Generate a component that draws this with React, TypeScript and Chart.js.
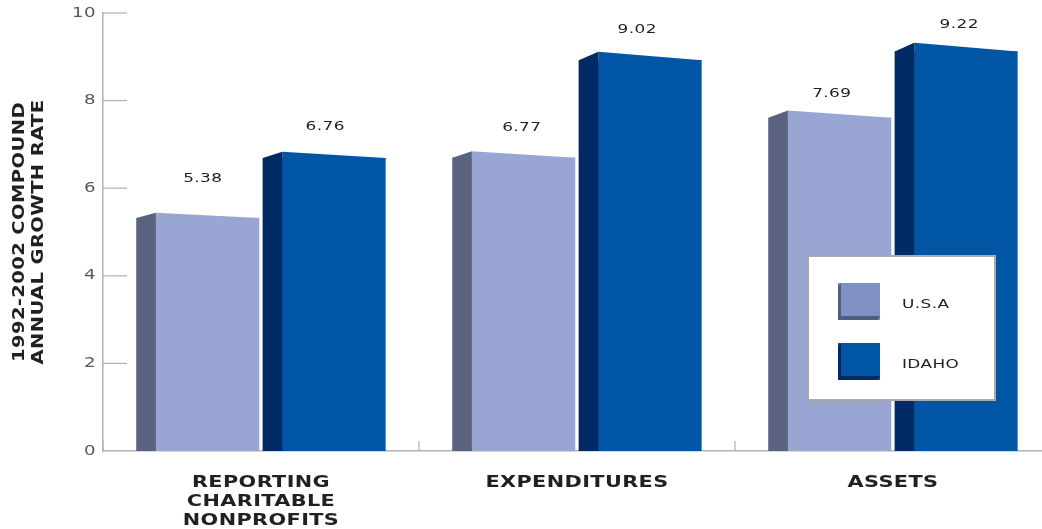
import React, { useEffect, useRef } from "react";
import { Chart, registerables } from "chart.js";

Chart.register(...registerables);

const categories = [["REPORTING", "CHARITABLE", "NONPROFITS"], "EXPENDITURES", "ASSETS"];
const usaValues = [5.38, 6.77, 7.69];
const idahoValues = [6.76, 9.02, 9.22];
const yTicks = [0, 2, 4, 6, 8, 10];
const seriesNames = ["U.S.A", "IDAHO"];
const yTitle = ["1992-2002 COMPOUND", "ANNUAL GROWTH RATE"];

const FRONT = ["#99a6d3", "#0055a5"];
const SIDE = ["#5a6280", "#002a66"];
const SWATCH = ["#8090c4", "#0055a5"];
const SWATCH_DARK = ["#525c80", "#002a66"];
// label offsets relative to the bar centre, per dataset / category
const LABEL_NUDGE = [
  [[5, -37], [8, -27], [2, -21]],
  [[1, -28], [-3, -26], [3, -23]],
];
const DEPTH = 19.5;
const TEXT = "#231f20";
const AXIS = "#b1b1b8";
const TEXT_STRETCH = 1.3;
const PLOT_TOP = 13;

const bar3d = {
  id: "bar3d",
  install(chart: any) {
    // The reference face is an extended sans: widen every glyph along its baseline.
    const ctx = chart.ctx;
    const original = ctx.fillText.bind(ctx);
    ctx.fillText = (text: string, x: number, y: number) => {
      ctx.save();
      ctx.translate(x, y);
      ctx.scale(TEXT_STRETCH, 1);
      original(text, 0, 0);
      ctx.restore();
    };
  },
  afterLayout(chart: any) {
    // pin the top of the plot area to the reference position
    const y = chart.scales.y;
    y.top = PLOT_TOP;
    y.height = y.bottom - PLOT_TOP;
    y.configure();
    y._labelItems = null;
    chart.chartArea.top = PLOT_TOP;
    chart.chartArea.height = chart.chartArea.bottom - PLOT_TOP;
  },
  beforeDraw(chart: any) {
    chart.ctx.letterSpacing = "0.3px";
  },
  beforeDatasetsDraw(chart: any) {
    const { ctx, scales, chartArea } = chart;
    ctx.save();
    ctx.strokeStyle = AXIS;
    ctx.lineWidth = 1.2;
    scales.y.ticks.forEach((t: any) => {
      if (t.value === 0) return;
      const y = scales.y.getPixelForValue(t.value);
      ctx.beginPath();
      ctx.moveTo(chartArea.left, y);
      ctx.lineTo(chartArea.left + 24, y);
      ctx.stroke();
    });
    const w = scales.x.width / categories.length;
    for (let i = 0; i < categories.length; i++) {
      const x = chartArea.left + w * i;
      ctx.beginPath();
      ctx.moveTo(x, chartArea.bottom);
      ctx.lineTo(x, chartArea.bottom - 10);
      ctx.stroke();
    }
    ctx.restore();
  },
  afterDatasetsDraw(chart: any) {
    const { ctx } = chart;
    ctx.save();
    chart.data.datasets.forEach((ds: any, d: number) => {
      chart.getDatasetMeta(d).data.forEach((bar: any, i: number) => {
        const { x, y, base, width } = bar.getProps(["x", "y", "base", "width"], true);
        const l = x - width / 2;
        const r = x + width / 2;
        const f = l + DEPTH;
        const slant = ds.data[i] * 0.95;
        const yHigh = y - slant / 2;
        const yLow = y + slant / 2;
        // clear the flat top where the slanted one falls below it
        ctx.fillStyle = "#ffffff";
        ctx.fillRect(l - 1, yHigh - 2, r - l + 2, yLow - yHigh + 2);
        // slanted front
        ctx.fillStyle = FRONT[d];
        ctx.beginPath();
        ctx.moveTo(f, yHigh);
        ctx.lineTo(r, yLow);
        ctx.lineTo(r, yLow + 1);
        ctx.lineTo(f, yLow + 1);
        ctx.closePath();
        ctx.fill();
        // side face
        ctx.fillStyle = SIDE[d];
        ctx.beginPath();
        ctx.moveTo(l, yLow);
        ctx.lineTo(f, yHigh);
        ctx.lineTo(f, base);
        ctx.lineTo(l, base);
        ctx.closePath();
        ctx.fill();
        // value label
        const [nx, ny] = LABEL_NUDGE[d][i];
        ctx.fillStyle = TEXT;
        ctx.font = "13px 'DejaVu Sans'";
        ctx.textAlign = "center";
        ctx.textBaseline = "middle";
        ctx.fillText(ds.data[i].toFixed(2), x + nx, y + ny);
      });
    });
    // legend
    ctx.fillStyle = "#ffffff";
    ctx.strokeStyle = "#a9a9a9";
    ctx.lineWidth = 2;
    ctx.fillRect(808, 256, 187, 144);
    ctx.strokeRect(808, 256, 187, 144);
    seriesNames.forEach((name, d) => {
      const top = 283 + d * 60;
      ctx.fillStyle = SWATCH[d];
      ctx.fillRect(838, top, 42, 37);
      ctx.fillStyle = SWATCH_DARK[d];
      ctx.beginPath();
      ctx.moveTo(838, top + 3);
      ctx.lineTo(841, top);
      ctx.lineTo(841, top + 33);
      ctx.lineTo(880, top + 33);
      ctx.lineTo(878, top + 37);
      ctx.lineTo(838, top + 37);
      ctx.closePath();
      ctx.fill();
      ctx.fillStyle = TEXT;
      ctx.font = "13px 'DejaVu Sans'";
      ctx.textAlign = "left";
      ctx.textBaseline = "middle";
      ctx.fillText(name, 902, top + 22);
    });
    ctx.restore();
  },
};

export default function App() {
  const ref = useRef<HTMLCanvasElement>(null);
  useEffect(() => {
    const chart = new Chart(ref.current!, {
      type: "bar",
      data: {
        labels: categories as any,
        datasets: [
          { label: seriesNames[0], data: usaValues, backgroundColor: FRONT[0], borderWidth: 0, categoryPercentage: 0.8, barPercentage: 0.972 },
          { label: seriesNames[1], data: idahoValues, backgroundColor: FRONT[1], borderWidth: 0, categoryPercentage: 0.8, barPercentage: 0.972 },
        ],
      },
      plugins: [bar3d],
      options: {
        responsive: false,
        animation: false,
        layout: { autoPadding: false, padding: { top: 13, left: 0, right: 0, bottom: 0 } },
        plugins: { legend: { display: false }, tooltip: { enabled: false }, title: { display: false } },
        scales: {
          x: {
            grid: { display: false, drawTicks: false },
            border: { color: AXIS, width: 1.5 },
            ticks: {
              color: TEXT,
              padding: 22,
              maxRotation: 0,
              autoSkip: false,
              font: { family: "'DejaVu Sans'", size: 16, weight: "bold", lineHeight: 1.19 },
            },
            afterFit: (s: any) => { s.height = 78; },
          },
          y: {
            min: 0,
            max: 10,
            afterBuildTicks: (s: any) => { s.ticks = yTicks.map((value) => ({ value })); },
            grid: { display: false, drawTicks: false },
            border: { color: AXIS, width: 1.5 },
            ticks: {
              color: "#58585a",
              padding: 7,
              font: { family: "'DejaVu Sans'", size: 14 },
            },
            title: {
              display: true,
              text: yTitle,
              color: TEXT,
              padding: { top: 11, bottom: 0 },
              font: { family: "'DejaVu Sans'", size: 15, weight: "bold", lineHeight: 1.27 },
            },
            afterFit: (s: any) => { s.width = 103; },
          },
        },
      },
    } as any);
    return () => chart.destroy();
  }, []);
  return (
    <div style={{ position: "fixed", left: 0, top: 0, width: 1042, height: 529, overflow: "hidden", background: "#fff" }}>
      <canvas ref={ref} width={1051} height={529} style={{ display: "block" }} />
    </div>
  );
}
